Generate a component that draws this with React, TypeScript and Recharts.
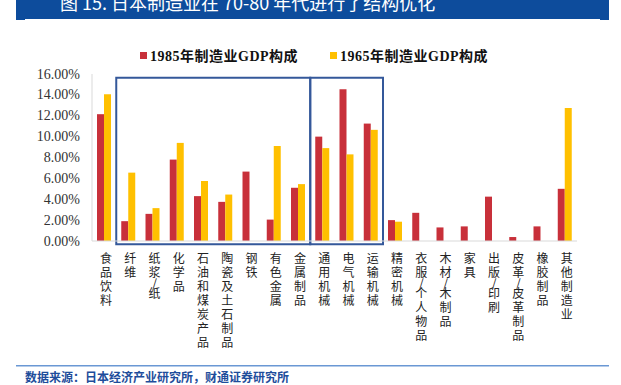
import React from 'react';
import { BarChart, Bar, XAxis, YAxis, ReferenceArea } from 'recharts';

const categories = [
  '食品饮料', '纤维', '纸浆/纸', '化学品', '石油和煤炭产品', '陶瓷及土石制品', '钢铁',
  '有色金属', '金属制品', '通用机械', '电气机械', '运输机械', '精密机械', '衣服/个人物品',
  '木材/木制品', '家具', '出版/印刷', '皮革/皮革制品', '橡胶制品', '其他制造业'
];
const share1985 = [12.15, 1.9, 2.6, 7.8, 4.3, 3.75, 6.65, 2.05, 5.1, 10.0, 14.55, 11.25, 2.0, 2.7, 1.3, 1.4, 4.25, 0.38, 1.4, 5.0];
const share1965 = [14.05, 6.55, 3.15, 9.4, 5.75, 4.45, 0, 9.1, 5.45, 8.9, 8.3, 10.65, 1.85, 0, 0, 0, 0, 0, 0, 12.75];
const yTicks = [0, 2, 4, 6, 8, 10, 12, 14, 16];

const data = categories.map((name, i) => ({ name, v1985: share1985[i], v1965: share1965[i] }));

const RED = '#C8303A';
const YELLOW = '#FFC000';
const BOX = '#34589A';

// category names are written top-to-bottom, one character per line
function VerticalTick(props: any) {
  const { x, y, payload } = props;
  const chars = Array.from(String(payload.value));
  let pos = y + 1;
  const spans = chars.map((c, i) => {
    const step = c === '/' ? 7 : 14;
    const cy = pos + step / 2;
    pos += step;
    return (
      <tspan key={i} x={x + 2} y={cy}>{c}</tspan>
    );
  });
  return (
    <text textAnchor="middle" dominantBaseline="central" fontSize={12} fill="#222"
      fontFamily="'Noto Sans CJK SC', sans-serif">
      {spans}
    </text>
  );
}

function PercentTick(props: any) {
  const { x, y, payload } = props;
  return (
    <text x={x} y={y} textAnchor="end" dominantBaseline="central" fontSize={14}
      fill="#333" fontFamily="'Liberation Serif', 'Times New Roman', serif">
      {Number(payload.value).toFixed(2) + '%'}
    </text>
  );
}

export default function App() {
  return (
    <div style={{ position: 'absolute', left: 0, top: 0, width: 621, height: 385, background: '#fff', overflow: 'hidden' }}>
      <svg width={621} height={385} style={{ position: 'absolute', left: 0, top: 0 }}>
        <rect x={16} y={0} width={593} height={20} fill="#0D4C9C" />
        <rect x={25} y={19} width={575} height={1} fill="#ffffff" />
        <text x={60} y={10} fontSize={18} fill="#fff" fontFamily="'Noto Sans CJK SC', sans-serif">
          图 15. 日本制造业在 70-80 年代进行了结构优化
        </text>
        <rect x={16} y={365} width={593} height={1.5} fill="#6A98D4" />
        <text x={25} y={382} fontSize={12} fontWeight="bold" fill="#1E4D9B" fontFamily="'Noto Sans CJK SC', sans-serif">
          数据来源：日本经济产业研究所，财通证券研究所
        </text>
      </svg>

      <div style={{ position: 'absolute', left: 140, top: 45, display: 'flex', alignItems: 'center', fontFamily: "'Liberation Serif', 'Noto Sans CJK SC', serif", fontWeight: 'bold', fontSize: 14, letterSpacing: 0.5, color: '#111' }}>
        <span style={{ width: 7, height: 7, background: RED, marginRight: 3 }} />
        <span>1985年制造业GDP构成</span>
        <span style={{ width: 7, height: 7, background: YELLOW, marginLeft: 32, marginRight: 3 }} />
        <span>1965年制造业GDP构成</span>
      </div>

      <div style={{ position: 'absolute', left: 0, top: 0 }}>
        <BarChart width={621} height={385} data={data} barGap={0} barSize={7}
          margin={{ top: 74, right: 44, bottom: 24, left: 0 }}>
          <XAxis dataKey="name" interval={0} height={120} tickLine={false}
            axisLine={{ stroke: '#d9d9d9' }} tick={<VerticalTick />} />
          <YAxis width={92} domain={[0, 16]} ticks={yTicks} interval={0} tickLine={false} tickMargin={6}
            axisLine={{ stroke: '#d9d9d9' }} tick={<PercentTick />} />
          <Bar dataKey="v1985" fill={RED} isAnimationActive={false} />
          <Bar dataKey="v1965" fill={YELLOW} isAnimationActive={false} />
          <ReferenceArea x1="纤维" x2="金属制品" y1={-0.3} y2={15.65} ifOverflow="visible"
            fill="none" stroke={BOX} strokeWidth={2} />
          <ReferenceArea x1="通用机械" x2="运输机械" y1={-0.3} y2={15.65} ifOverflow="visible"
            fill="none" stroke={BOX} strokeWidth={2} />
        </BarChart>
      </div>
    </div>
  );
}
